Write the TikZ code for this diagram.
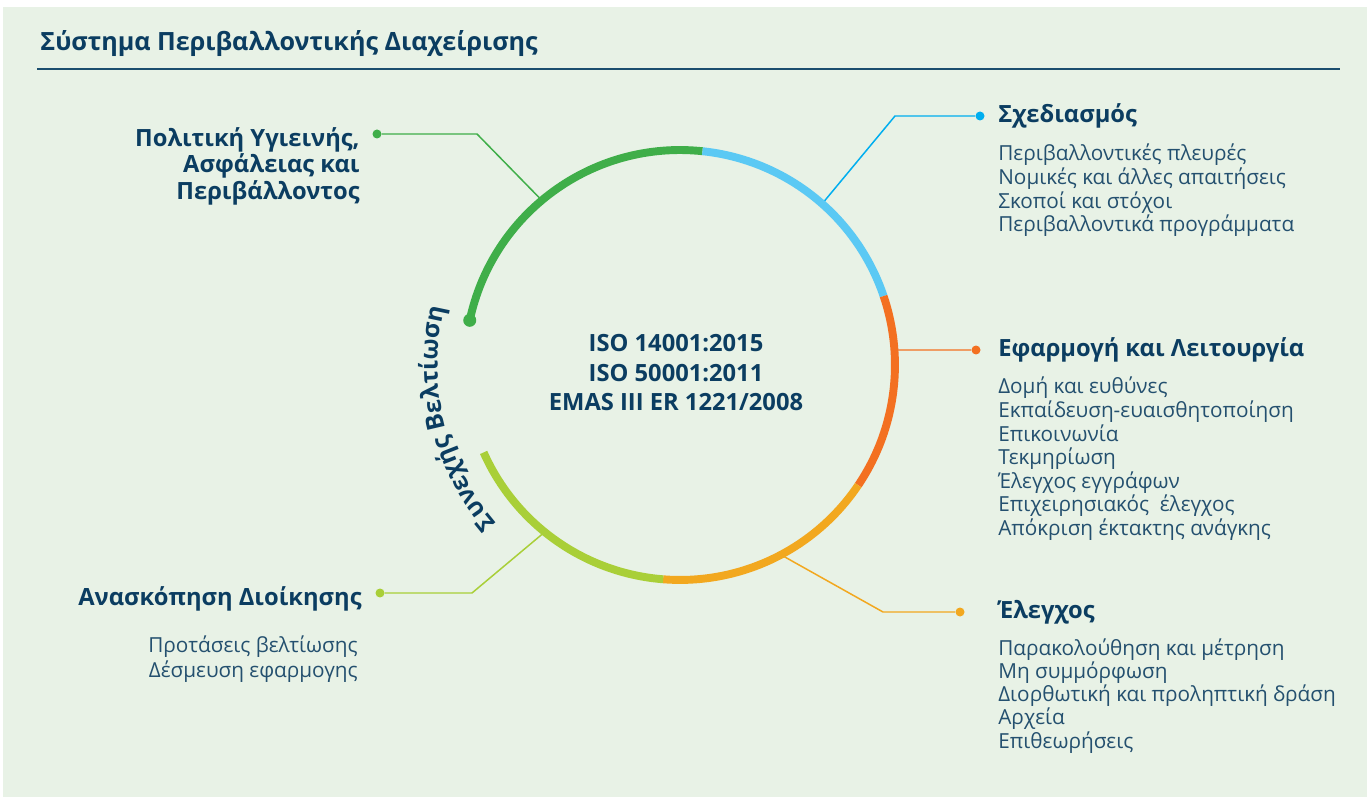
\documentclass[tikz,border=0pt]{standalone}
\usepackage{fontspec}
\setmainfont{Open Sans}
\usetikzlibrary{positioning,decorations.text}

\definecolor{bgpanel}{HTML}{E8F2E6}
\definecolor{navy}{HTML}{0B3D61}
\definecolor{itemtext}{HTML}{24506F}
\definecolor{rulecol}{HTML}{1B4E6E}
\definecolor{polgreen}{HTML}{3FAE49}
\definecolor{planblue}{HTML}{5BC9F4}
\definecolor{planline}{HTML}{00AEEF}
\definecolor{opsorange}{HTML}{F37021}
\definecolor{chkamber}{HTML}{F2A81F}
\definecolor{revlime}{HTML}{A9CF38}

\begin{document}
\begin{tikzpicture}[
		x=0.02cm, y=0.02cm,
		heading/.style={font=\fontsize{13.5}{16}\selectfont\bfseries, text=navy, inner sep=0pt},
		item/.style={font=\fontsize{11.8}{14}\selectfont, text=itemtext, inner sep=0pt, anchor=base west},
		leaddot/.style={circle, fill=#1, inner sep=0pt, minimum size=0.18cm},
		link/.style={draw=#1, line width=0.85pt},
		ring/.style={draw=#1, line width=4.5pt}
	]
		\useasboundingbox (0,0) rectangle (1367,-797);
		\fill[bgpanel] (3,-7) rectangle (1367,-797);

		% title
		\node[heading, font=\fontsize{14.3}{17}\selectfont\bfseries, anchor=base west] (title) at (40,-51) {Σύστημα Περιβαλλοντικής Διαχείρισης};
		\coordinate (rule-l) at (37,-69);
		\coordinate (rule-r) at (1340,-69);
		\draw[rulecol, line width=1.4pt] (rule-l) -- (rule-r);

		\coordinate (c) at (680,-365);
		\def\R{4.3cm}

		% standards in the middle
		\node[heading, anchor=base] (iso-1) at (676,-352) {ISO 14001:2015};
		\node[heading, anchor=base] (iso-2) at (676,-382) {ISO 50001:2011};
		\node[heading, anchor=base] (emas) at (676,-411) {EMAS III ER 1221/2008};

		% headings
		\node[heading, anchor=base east] (pol-1) at (360,-147) {Πολιτική Υγιεινής,};
		\node[heading, anchor=base east] (pol-2) at (360,-173) {Ασφάλειας και};
		\node[heading, anchor=base east] (pol-3) at (360,-200) {Περιβάλλοντος};
		\node[heading, anchor=base west] (plan) at (998,-123) {Σχεδιασμός};
		\node[heading, anchor=base west] (ops) at (998,-357) {Εφαρμογή και Λειτουργία};
		\node[heading, anchor=base west] (check) at (998,-618) {Έλεγχος};
		\node[heading, anchor=base east] (review) at (362,-605) {Ανασκόπηση Διοίκησης};

		% lists
		\foreach \t [count=\i] in {Περιβαλλοντικές πλευρές, Νομικές και άλλες απαιτήσεις, Σκοποί και στόχοι, Περιβαλλοντικά προγράμματα}
			\node[item] (plan-\i) at (998,{-161-23.6*(\i-1)}) {\t};
		\foreach \t [count=\i] in {Δομή και ευθύνες, Εκπαίδευση-ευαισθητοποίηση, Επικοινωνία, Τεκμηρίωση, Έλεγχος εγγράφων, Επιχειρησιακός~ έλεγχος, Απόκριση έκτακτης ανάγκης}
			\node[item] (ops-\i) at (998,{-394-23.5*(\i-1)}) {\t};
		\foreach \t [count=\i] in {Παρακολούθηση και μέτρηση, Μη συμμόρφωση, Διορθωτική και προληπτική δράση, Αρχεία, Επιθεωρήσεις}
			\node[item] (check-\i) at (998,{-655-23.3*(\i-1)}) {\t};
		\foreach \t [count=\i] in {Προτάσεις βελτίωσης, Δέσμευση εφαρμογης}
			\node[item, anchor=base east] (review-\i) at (358,{-652-25*(\i-1)}) {\t};

		% dots and leaders
		\node[leaddot=polgreen] (pol-dot) at (377,-134) {};
		\node[leaddot=planline] (plan-dot) at (980,-116) {};
		\node[leaddot=opsorange] (ops-dot) at (976,-350) {};
		\node[leaddot=chkamber] (check-dot) at (960,-612) {};
		\node[leaddot=revlime] (review-dot) at (380,-593) {};

		\coordinate (pol-in) at ([shift={(130:\R)}]c);
		\coordinate (plan-in) at ([shift={(48.6:\R)}]c);
		\coordinate (ops-in) at ([shift={(4:\R)}]c);
		\coordinate (check-in) at ([shift={(-62:\R)}]c);
		\coordinate (review-in) at ([shift={(231:\R)}]c);
		\coordinate (pol-bend) at (477,-134);
		\coordinate (plan-bend) at (895,-116);
		\coordinate (check-bend) at (883,-612);
		\coordinate (review-bend) at (472,-593);

		\draw[link=polgreen] (pol-in) -- (pol-bend) -- (pol-dot);
		\draw[link=planline] (plan-in) -- (plan-bend) -- (plan-dot);
		\draw[link=opsorange] (ops-in) -- (ops-dot);
		\draw[link=chkamber] (check-in) -- (check-bend) -- (check-dot);
		\draw[link=revlime] (review-in) -- (review-bend) -- (review-dot);

		% ring
		\foreach \a/\b/\col in {168/84/polgreen, 84/18.7/planblue, 18.7/-34/opsorange, -34/-94.5/chkamber, -94.5/-156/revlime}
			\draw[ring=\col] ([shift={(\a:\R)}]c) arc[start angle=\a, end angle=\b, radius=\R];
		\node[leaddot=polgreen, minimum size=0.26cm] (ring-end) at ([shift={(168:\R)}]c) {};

		\path[decorate, decoration={text along path, text align=center,
			text={|\fontsize{14}{17}\selectfont\bfseries\color{navy}|Συνεχής Βελτίωση}}]
			([shift={(224:4.85cm)}]c) arc[start angle=224, end angle=163, radius=4.85cm];
	\end{tikzpicture}
\end{document}
